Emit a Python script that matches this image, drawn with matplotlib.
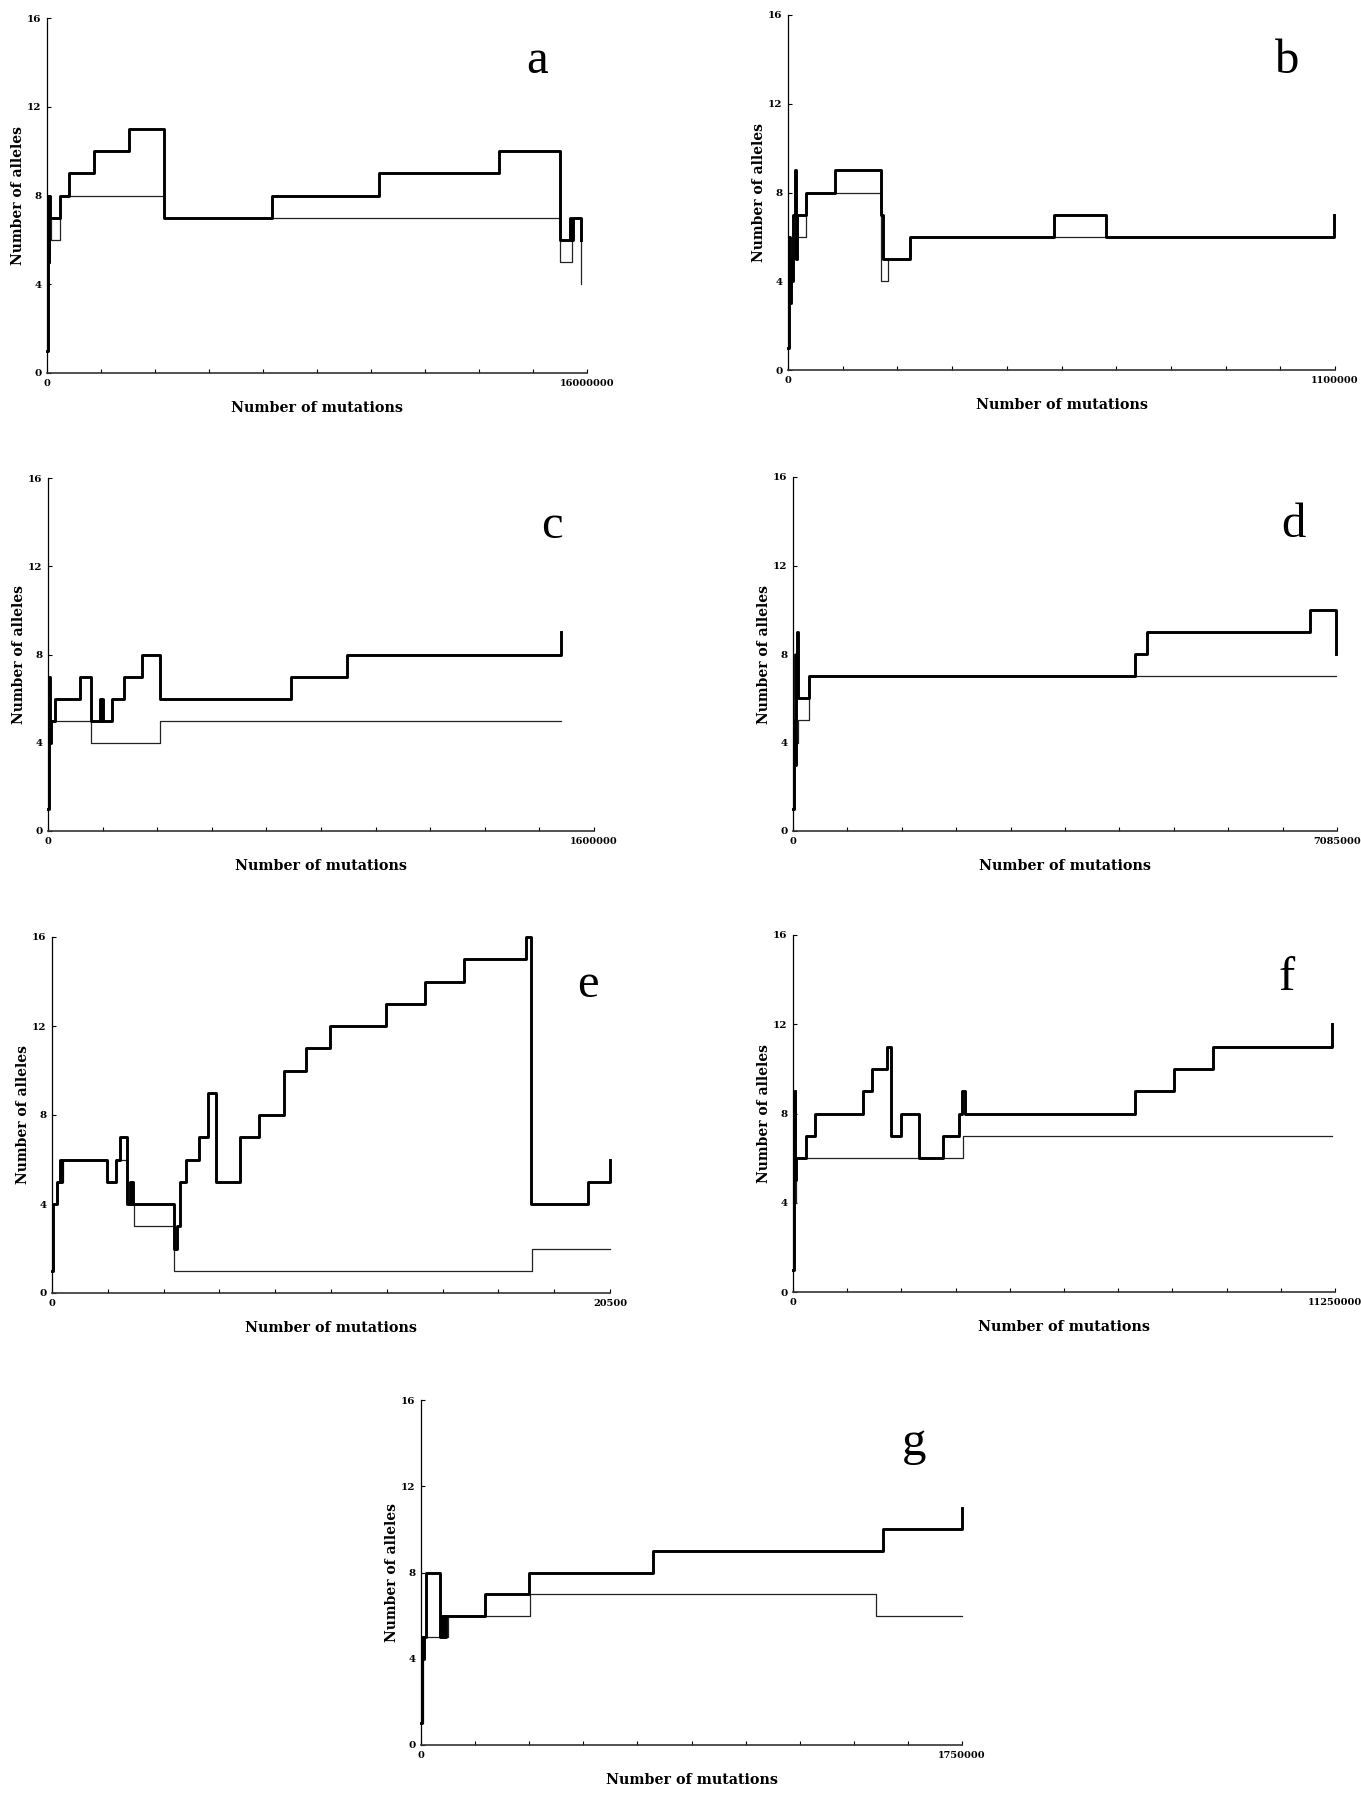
import matplotlib
matplotlib.use('Agg')
import matplotlib.pyplot as plt
import numpy as np

# x-axis maxima (number of mutations) for each run
a_max = 16000000
b_max = 1100000
c_max = 1600000
d_max = 7085000
e_max = 20500
f_max = 11250000
g_max = 1750000

# panel a
a_thick_x = [0, 16000, 32000, 48000, 64000, 80000, 380000, 640000, 1400000, 2420000, 3470000,
             6670000, 9840000, 13380000, 15200000, 15490000, 15540000, 15580000, 15620000, 15810000, 15810000]
a_thick_y = [1, 4, 8, 5, 8, 7, 8, 9, 10, 11, 7, 8, 9, 10, 6, 7, 6, 7, 7, 7, 6]
a_thin_x = [0, 16000, 32000, 64000, 110000, 380000, 3470000, 15200000, 15550000, 15810000, 15810000]
a_thin_y = [1, 4, 5, 7, 6, 8, 7, 5, 7, 7, 4]

# panel b
b_thick_x = [0, 2200, 4400, 6600, 8800, 11000, 13200, 15400, 17600, 35200, 94000, 188000, 191000,
             245000, 534000, 639000, 1098000, 1098000]
b_thick_y = [1, 6, 3, 5, 4, 7, 9, 5, 7, 8, 9, 7, 5, 6, 7, 6, 6, 7]
b_thin_x = [0, 2200, 6600, 13200, 17600, 35200, 188000, 202000, 245000, 1098000]
b_thin_y = [1, 4, 5, 6, 6, 8, 4, 5, 6, 6]

# panel c
c_thick_x = [0, 3200, 6400, 9600, 20800, 94400, 126000, 151500, 154500, 157500, 160500, 187000,
             222000, 274000, 328000, 712000, 877000, 1504000, 1504000]
c_thick_y = [1, 7, 4, 5, 6, 7, 5, 6, 5, 6, 5, 6, 7, 8, 6, 7, 8, 8, 9]
c_thin_x = [0, 3200, 9600, 126000, 328000, 1504000]
c_thin_y = [1, 4, 5, 4, 5, 5]

# panel d
d_thick_x = [0, 14000, 28000, 42000, 57000, 68000, 210000, 4456000, 4612000, 6731000, 7071000, 7071000]
d_thick_y = [1, 5, 3, 8, 9, 6, 7, 8, 9, 10, 10, 8]
d_thin_x = [0, 11000, 28000, 68000, 210000, 7071000]
d_thin_y = [1, 8, 4, 5, 7, 7]

# panel e
e_thick_x = [0, 40, 190, 290, 340, 370, 410, 2010, 2340, 2480, 2770, 2850, 2890, 2930, 2970, 4500,
             4610, 4720, 4910, 5410, 5720, 6010, 6910, 7610, 8530, 9330, 10230, 12280, 13710, 15130,
             17430, 17590, 19700, 20500, 20500]
e_thick_y = [1, 4, 5, 6, 5, 6, 6, 5, 6, 7, 4, 5, 4, 5, 4, 2, 3, 5, 6, 7, 9, 5, 7, 8, 10, 11, 12,
             13, 14, 15, 16, 4, 5, 5, 6]
e_thin_x = [0, 40, 190, 410, 2010, 2340, 2770, 3030, 4500, 17630, 20500]
e_thin_y = [1, 4, 5, 6, 5, 6, 4, 3, 1, 2, 2]

# panel f
f_thick_x = [0, 11000, 22000, 34000, 51000, 63000, 262000, 450000, 1460000, 1650000, 1950000,
             2040000, 2240000, 2620000, 3120000, 3440000, 3510000, 3580000, 7090000, 7900000,
             8720000, 11180000, 11180000]
f_thick_y = [1, 4, 7, 9, 5, 6, 7, 8, 9, 10, 11, 7, 8, 6, 7, 8, 9, 8, 9, 10, 11, 11, 12]
f_thin_x = [0, 22000, 63000, 3530000, 11180000]
f_thin_y = [1, 4, 6, 7, 7]

# panel g
g_thick_x = [0, 3500, 7000, 10500, 17300, 62500, 66500, 70000, 73500, 77000, 80500, 86300,
             205800, 347900, 750200, 1493800, 1750000, 1750000]
g_thick_y = [1, 5, 4, 5, 8, 5, 6, 5, 6, 5, 6, 6, 7, 8, 9, 10, 10, 11]
g_thin_x = [0, 5000, 10500, 86300, 351800, 1471200, 1750000]
g_thin_y = [1, 4, 5, 6, 7, 6, 6]

letters = ['a', 'b', 'c', 'd', 'e', 'f', 'g']
maxima = [a_max, b_max, c_max, d_max, e_max, f_max, g_max]
thick = [(a_thick_x, a_thick_y), (b_thick_x, b_thick_y), (c_thick_x, c_thick_y),
         (d_thick_x, d_thick_y), (e_thick_x, e_thick_y), (f_thick_x, f_thick_y),
         (g_thick_x, g_thick_y)]
thin = [(a_thin_x, a_thin_y), (b_thin_x, b_thin_y), (c_thin_x, c_thin_y),
        (d_thin_x, d_thin_y), (e_thin_x, e_thin_y), (f_thin_x, f_thin_y),
        (g_thin_x, g_thin_y)]

W, H = 1361, 1793
fig = plt.figure(figsize=(W / 100, H / 100), dpi=100)

# axes boxes in pixels: left, right, top, bottom
boxes = [(47, 587, 18, 373), (788, 1335, 15, 370),
         (48, 594, 478, 831), (793, 1337, 477, 831),
         (52, 610, 937, 1293), (793, 1335, 935, 1292),
         (421, 962, 1400, 1745)]
# panel letter positions (center x, baseline y) in pixels
letter_pos = [(537, 73), (1287, 73), (552, 538), (1293, 537), (588, 997), (1287, 990), (914, 1455)]

for i in range(7):
    x0, x1, yt, yb = boxes[i]
    ax = fig.add_axes([x0 / W, 1 - yb / H, (x1 - x0) / W, (yb - yt) / H])
    xmax = maxima[i]
    ax.step(thin[i][0], thin[i][1], where='post', color='#222222', lw=0.9, clip_on=False)
    ax.step(thick[i][0], thick[i][1], where='post', color='black', lw=2.1, clip_on=False)
    ax.set_xlim(0, xmax)
    ax.set_ylim(0, 16)
    ax.spines['top'].set_visible(False)
    ax.spines['right'].set_visible(False)
    ax.spines['left'].set_linewidth(0.9)
    ax.spines['bottom'].set_linewidth(1.2)
    ax.spines['bottom'].set_color('#333333')

    ax.set_yticks([0, 4, 8, 12, 16])
    ax.set_yticklabels(['0', '4', '8', '12', '16'], fontsize=7.5, fontweight='bold', family='DejaVu Serif')
    xt = np.linspace(0, xmax, 11)
    ax.set_xticks(xt)
    xl = [''] * 11
    xl[0] = '0'
    xl[-1] = str(xmax)
    ax.set_xticklabels(xl, fontsize=7, fontweight='bold', family='DejaVu Serif')
    ax.tick_params(axis='both', direction='in', length=3, width=0.8, pad=4)

    ax.set_xlabel('Number of mutations', fontsize=10.3, fontweight='bold', family='DejaVu Serif', va='center')
    ax.xaxis.set_label_coords(0.5, -35 / (yb - yt))
    ax.set_ylabel('Number of alleles', fontsize=10, fontweight='bold', family='DejaVu Serif', va='center')
    ax.yaxis.set_label_coords(-29 / (x1 - x0), 0.5)

    lx, ly = letter_pos[i]
    fig.text(lx / W, 1 - ly / H, letters[i], fontsize=35, family='Liberation Serif',
             ha='center', va='baseline')

fig.savefig('out.png', dpi=100)
